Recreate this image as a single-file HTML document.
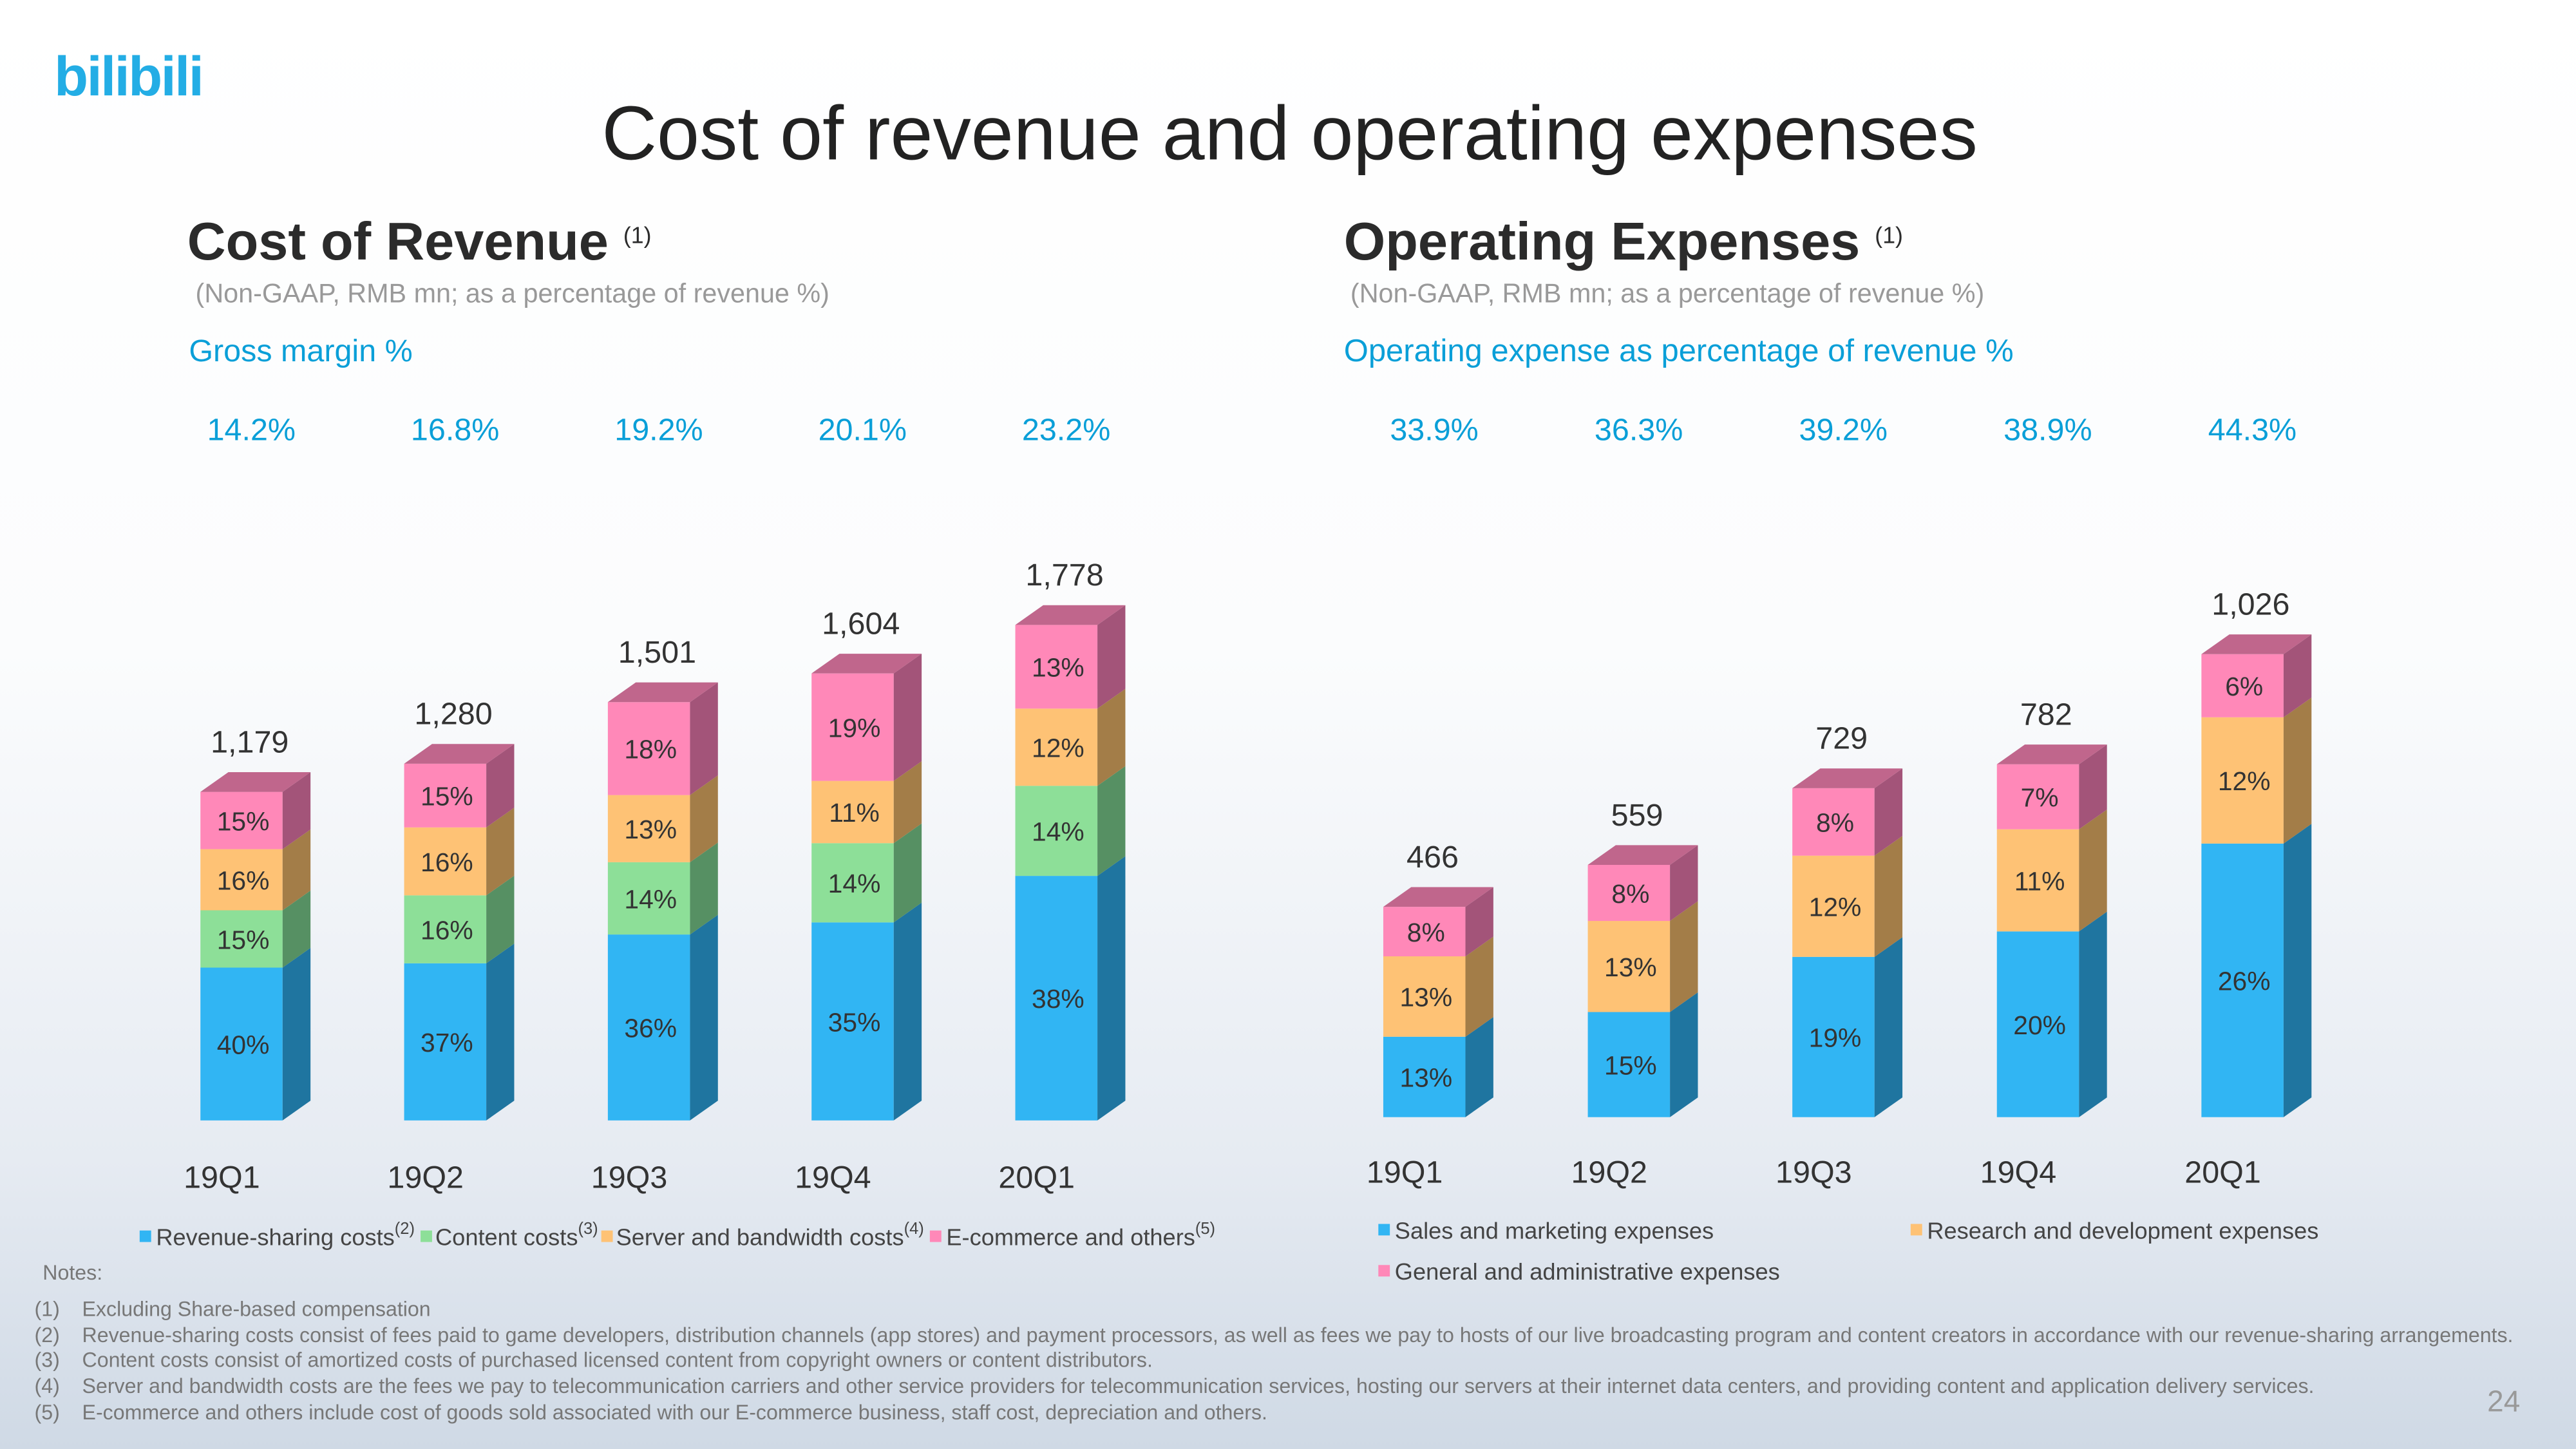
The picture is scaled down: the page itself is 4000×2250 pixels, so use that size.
<!DOCTYPE html>
<html><head><meta charset="utf-8"><style>
html,body{margin:0;padding:0;width:4000px;height:2250px;overflow:hidden}
svg{display:block}
text{font-family:"Liberation Sans",sans-serif}
</style></head><body>
<svg id="slide" width="4000" height="2250" viewBox="0 0 1568 882" xmlns="http://www.w3.org/2000/svg">
<defs>
<linearGradient id="bg" x1="0" y1="0" x2="0" y2="1">
<stop offset="0" stop-color="#ffffff"/><stop offset="0.45" stop-color="#fbfcfd"/><stop offset="0.8" stop-color="#e6ebf2"/><stop offset="1" stop-color="#cfd9e5"/>
</linearGradient>
</defs>
<rect x="0" y="0" width="1568" height="882" fill="url(#bg)"/>
<text x="33" y="58" font-size="34" font-weight="bold" fill="#23ade5" style="letter-spacing:-1px">bilibili</text>
<text x="785" y="97" text-anchor="middle" font-size="46.5" fill="#222">Cost of revenue and operating expenses</text>

<g>
<text x="114" y="158" font-size="32.5" font-weight="bold" fill="#2b2b2b">Cost of Revenue <tspan font-size="14" font-weight="normal" dy="-10">(1)</tspan></text>
<text x="119" y="184" font-size="16.2" fill="#999">(Non-GAAP, RMB mn; as a percentage of revenue %)</text>
<text x="115" y="220" font-size="19" fill="#0a9fd8">Gross margin %</text>
</g>
<g>
<text x="818" y="158" font-size="32.5" font-weight="bold" fill="#2b2b2b">Operating Expenses <tspan font-size="14" font-weight="normal" dy="-10">(1)</tspan></text>
<text x="822" y="184" font-size="16.2" fill="#999">(Non-GAAP, RMB mn; as a percentage of revenue %)</text>
<text x="818" y="220" font-size="19.2" fill="#0a9fd8">Operating expense as percentage of revenue %</text>
</g>

<g id="charts"></g>

<g font-size="14.2" fill="#444">
<rect x="85" y="749" width="7" height="7" fill="#31b5f3"/><text x="95" y="758">Revenue-sharing costs<tspan font-size="10" dy="-7">(2)</tspan></text>
<rect x="256" y="749" width="7" height="7" fill="#8ddf98"/><text x="265" y="758">Content costs<tspan font-size="10" dy="-7">(3)</tspan></text>
<rect x="366" y="749" width="7" height="7" fill="#fec275"/><text x="375" y="758">Server and bandwidth costs<tspan font-size="10" dy="-7">(4)</tspan></text>
<rect x="566" y="749" width="7" height="7" fill="#ff88b8"/><text x="576" y="758">E-commerce and others<tspan font-size="10" dy="-7">(5)</tspan></text>
</g>
<g font-size="14.2" fill="#444">
<rect x="839" y="745" width="7" height="7" fill="#31b5f3"/><text x="849" y="754">Sales and marketing expenses</text>
<rect x="1163" y="745" width="7" height="7" fill="#fec275"/><text x="1173" y="754">Research and development expenses</text>
<rect x="839" y="770" width="7" height="7" fill="#ff88b8"/><text x="849" y="779">General and administrative expenses</text>
</g>

<g font-size="12.6" fill="#777">
<text x="26" y="779">Notes:</text>
<text x="21" y="801">(1)</text><text x="50" y="801">Excluding Share-based compensation</text>
<text x="21" y="817">(2)</text><text x="50" y="817">Revenue-sharing costs consist of fees paid to game developers, distribution channels (app stores) and payment processors, as well as fees we pay to hosts of our live broadcasting program and content creators in accordance with our revenue-sharing arrangements.</text>
<text x="21" y="832">(3)</text><text x="50" y="832">Content costs consist of amortized costs of purchased licensed content from copyright owners or content distributors.</text>
<text x="21" y="848">(4)</text><text x="50" y="848">Server and bandwidth costs are the fees we pay to telecommunication carriers and other service providers for telecommunication services, hosting our servers at their internet data centers, and providing content and application delivery services.</text>
<text x="21" y="864">(5)</text><text x="50" y="864">E-commerce and others include cost of goods sold associated with our E-commerce business, staff cost, depreciation and others.</text>
</g>
<text x="1534" y="859" text-anchor="end" font-size="18" fill="#999">24</text>
</svg>
<script>
// Cost of revenue data
const quarters = ["19Q1","19Q2","19Q3","19Q4","20Q1"];
const costTotals = [1179,1280,1501,1604,1778];
const costTotalLabels = ["1,179","1,280","1,501","1,604","1,778"];
const grossMargin = ["14.2%","16.8%","19.2%","20.1%","23.2%"];
const revenueSharing = [40,37,36,35,38];
const contentCosts = [15,16,14,14,14];
const serverCosts = [16,16,13,11,12];
const ecommerceCosts = [15,15,18,19,13];
// Operating expenses data
const opexTotals = [466,559,729,782,1026];
const opexTotalLabels = ["466","559","729","782","1,026"];
const opexRatio = ["33.9%","36.3%","39.2%","38.9%","44.3%"];
const salesMarketing = [13,15,19,20,26];
const researchDev = [13,13,12,11,12];
const generalAdmin = [8,8,8,7,6];

const NS = "http://www.w3.org/2000/svg";
const root = document.getElementById("charts");
function mk(tag, attrs, parent){const e=document.createElementNS(NS,tag);for(const k in attrs)e.setAttribute(k,attrs[k]);parent.appendChild(e);return e;}

const COL = {
  blue:{f:"#31b5f3",s:"#1f75a0"}, green:{f:"#8ddf98",s:"#569063"},
  orange:{f:"#fec275",s:"#a37d48"}, pink:{f:"#ff88b8",s:"#a35479",t:"#c0668c"}
};

function drawChart(cfg){
  const g = mk("g",{},root);
  
  
  const xPos = i => cfg.x0 + i*cfg.step;
  const yScale = v => v*cfg.k;
  const W=50, DX=17, DY=12;
  quarters.forEach((q,i)=>{
    const x = xPos(i);
    const H = yScale(cfg.totals[i]);
    const sum = cfg.series.reduce((a,s)=>a+s.vals[i],0);
    let y = cfg.base;
    const bar = mk("g",{},g);
    
    
    cfg.series.forEach((s,j)=>{
      const h = H*s.vals[i]/sum;
      const yt = y-h;
      const seg = mk("g",{},bar);
      
      
      mk("rect",{x:x,y:yt,width:W,height:h,fill:COL[s.c].f},seg);
      mk("polygon",{points:`${x+W},${y} ${x+W+DX},${y-DY} ${x+W+DX},${yt-DY} ${x+W},${yt}`,fill:COL[s.c].s},seg);
      const t = mk("text",{x:x+W/2+1,y:yt+h/2+6,"text-anchor":"middle","font-size":16,fill:"#333"},seg);
      
      
      t.textContent = s.vals[i]+"%";
      y = yt;
    });
    mk("polygon",{points:`${x},${y} ${x+DX},${y-DY} ${x+W+DX},${y-DY} ${x+W},${y}`,fill:COL.pink.t},bar);
    const tl = mk("text",{x:x+W/2+5,y:y-24,"text-anchor":"middle","font-size":19,fill:"#333"},g);
    
    
    tl.textContent = cfg.totalLabels[i];
    const ql = mk("text",{x:x+W/2-12,y:cfg.qY,"text-anchor":"middle","font-size":19,fill:"#333"},g);
    
    
    ql.textContent = q;
    const rl = mk("text",{x:x+W/2+6,y:268,"text-anchor":"middle","font-size":19,fill:"#0a9fd8"},g);
    
    
    rl.textContent = cfg.ratios[i];
  });
}

drawChart({name:"cost-of-revenue-chart",x0:122,step:124,base:682,k:200/1179,qY:723,
  totals:costTotals,totalLabels:costTotalLabels,ratios:grossMargin,ratioName:"gross-margin",
  series:[{key:"revenue-sharing",c:"blue",vals:revenueSharing},{key:"content-costs",c:"green",vals:contentCosts},
          {key:"server-bandwidth",c:"orange",vals:serverCosts},{key:"ecommerce",c:"pink",vals:ecommerceCosts}]});
drawChart({name:"operating-expenses-chart",x0:842,step:124.5,base:680,k:128/466,qY:720,
  totals:opexTotals,totalLabels:opexTotalLabels,ratios:opexRatio,ratioName:"opex-ratio",
  series:[{key:"sales-marketing",c:"blue",vals:salesMarketing},{key:"research-development",c:"orange",vals:researchDev},
          {key:"general-admin",c:"pink",vals:generalAdmin}]});
</script>
</body></html>
